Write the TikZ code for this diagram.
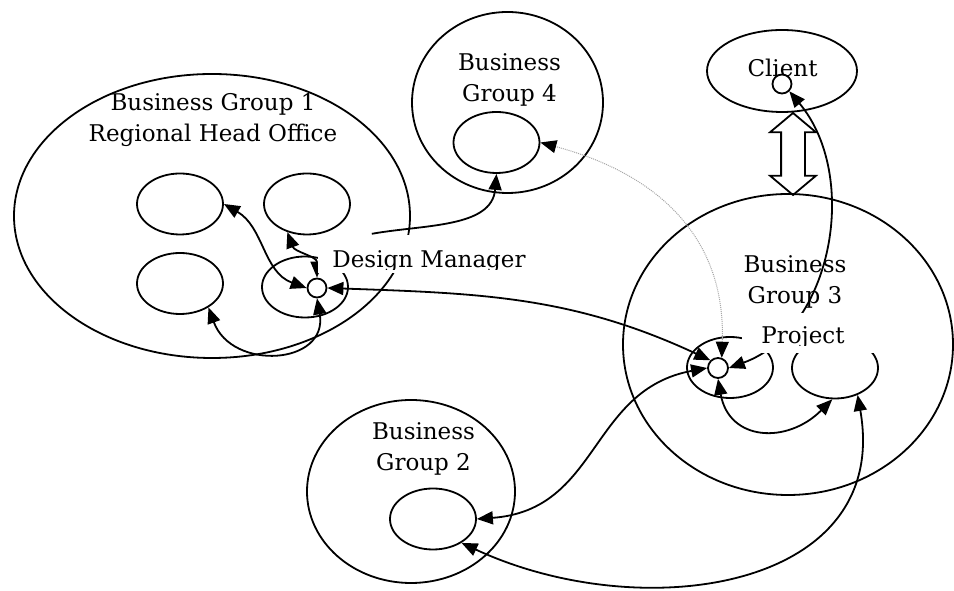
\documentclass[tikz,border=0pt]{standalone}
\usepackage{fontspec}
\setmainfont{DejaVu Serif}
\usetikzlibrary{shapes.geometric,shapes.arrows,arrows.meta}
\newcommand{\bgfont}{\fontsize{23}{31}\selectfont}
\tikzset{
  grp/.style={draw, ellipse, line width=1.8pt, inner sep=0pt},
  unit/.style={draw, ellipse, line width=1.8pt, minimum width=86pt, minimum height=61pt, inner sep=0pt},
  dot/.style={draw, circle, fill=white, line width=1.8pt, minimum size=19pt, inner sep=0pt},
  lbl/.style={font=\bgfont, align=center, inner sep=0pt},
  mask/.style={fill=white, inner sep=0pt},
  darrow/.style={draw, double arrow, fill=white, line width=1.8pt, rotate=90,
    minimum height=82pt, minimum width=44pt, double arrow head extend=11pt,
    double arrow tip angle=100, inner xsep=0pt, inner ysep=11pt},
  arr/.tip={Triangle[length=16pt,width=13pt]},
  link/.style={line width=1.8pt},
}
\begin{document}
\begin{tikzpicture}[x=1pt,y=1pt]
  \useasboundingbox (0,0) rectangle (954,591);
  \node[grp, minimum width=396pt, minimum height=284pt] (bg1) at (212,375) {};
  \node[lbl] (bg1l) at (213,470.5) {Business Group 1\\Regional Head Office};
  \node[unit] (tl) at (180,387) {};
  \node[unit] (tr) at (307,387) {};
  \node[unit] (bl) at (180,307.5) {};
  \node[unit] (dmu) at (305,304) {};
  \node[dot] (dmc) at (317,303) {};

  \node[grp, minimum width=191pt, minimum height=181pt] (bg4) at (507.5,488.5) {};
  \node[lbl] (bg4l) at (509.5,511.4) {Business\\Group 4};
  \node[unit] (bg4u) at (496.5,448.5) {};

  \node[grp, minimum width=150pt, minimum height=82pt] (client) at (782,520) {};
  \node[lbl, anchor=base] (clientl) at (782.5,514) {Client};
  \node[dot] (cc) at (782,507) {};
  \node[darrow] (link3) at (793,437) {};

  \node[grp, minimum width=330pt, minimum height=301pt] (bg3) at (788,246.5) {};
  \node[lbl] (bg3l) at (795,309.4) {Business\\Group 3};
  \node[unit] (pl) at (730,223.5) {};
  \node[unit] (pr) at (835,223) {};
  \node[dot, minimum size=20pt] (pc) at (718,223) {};

  \node[grp, minimum width=208pt, minimum height=183pt] (bg2) at (411,99.5) {};
  \node[lbl] (bg2l) at (423.5,142.4) {Business\\Group 2};
  \node[unit] (bg2u) at (433,72) {};

  \begin{scope}[link, arr-arr]
    \draw (tl.east) to[out=-30,in=160] (dmc.west);
    \draw (tr.-125) to[out=-70,in=90] (dmc.north);
    \draw (bl.-40) to[out=-70,in=-80,looseness=1.6] (dmc.south);
    \draw (dmc.east) to[out=-2,in=155] (pc.135);
    \draw (pc.west) .. controls +(-118,-22) and +(123,9) .. (bg2u.east);
    \draw (pr.-50) to[out=-80,in=-25,looseness=1.2] (bg2u.-40);
    \draw (pc.south) to[out=-80,in=-135,looseness=1.4] (pr.-95);
    \draw (pc.east) to[out=20,in=-50] (cc.-45);
  \end{scope}
  \draw[densely dotted, gray!70, line width=1pt,
    {Triangle[length=16pt,width=13pt,black]}-{Triangle[length=16pt,width=13pt,black]}]
    (pc.70) to[out=88,in=-15,looseness=1.1] (bg4u.east);

  \node[mask, minimum width=227pt, minimum height=38pt] (dmbox) at (431.5,337) {};
  \begin{scope}
    \clip (318,321) rectangle (545,356);
    \node[lbl, anchor=base] (dm) at (429,323) {Design Manager};
  \end{scope}
  \node[mask, minimum width=148pt, minimum height=40pt] (pbox) at (816,258) {};
  \begin{scope}
    \clip (742,245.5) rectangle (890,278);
    \node[lbl, anchor=base] (proj) at (803,247) {Project};
  \end{scope}

  \coordinate (dmout) at ([xshift=54pt,yshift=1pt]dmbox.north west);
  \draw[link, -arr] (dmout) to[out=10,in=-95] (bg4u.south);
\end{tikzpicture}
\end{document}
